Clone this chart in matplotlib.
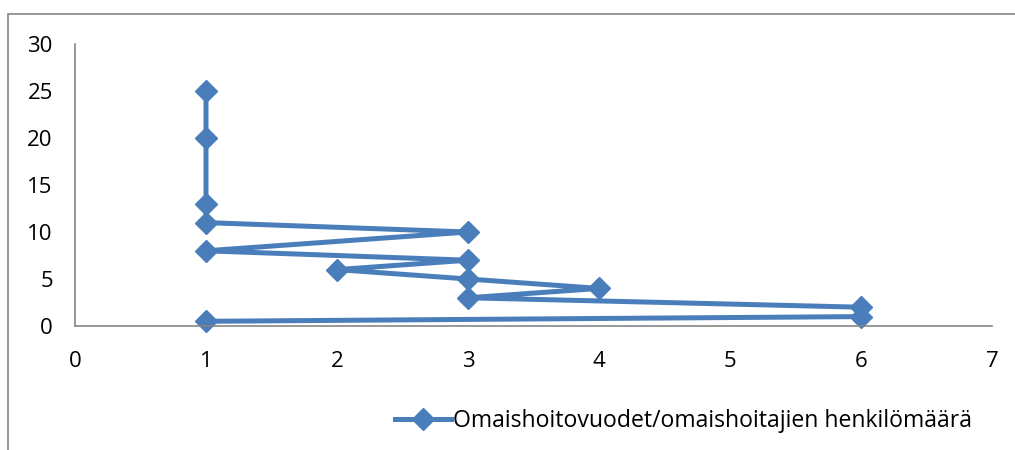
import matplotlib
matplotlib.use("Agg")
import matplotlib.pyplot as plt
from matplotlib.patches import Rectangle

# Data (in drawing order)
x_vals = [1, 1, 1, 1, 3, 1, 3, 2, 3, 4, 3, 6, 6, 1]
y_vals = [25, 20, 13, 11, 10, 8, 7, 6, 5, 4, 3, 2, 1, 0.5]
series_label = "Omaishoitovuodet/omaishoitajien henkilömäärä"
x_ticks = [0, 1, 2, 3, 4, 5, 6, 7]
y_ticks = [0, 5, 10, 15, 20, 25, 30]

LINE_COLOR = "#4A7EBB"
AXIS_COLOR = "#868686"

plt.rcParams["font.family"] = ["Open Sans", "DejaVu Sans"]

fig = plt.figure(figsize=(10.15, 4.5), dpi=100)
ax = fig.add_axes([75 / 1015, 1 - 326 / 450, (992 - 75) / 1015, (326 - 44) / 450])

ax.plot(x_vals, y_vals, color=LINE_COLOR, lw=3.6, marker="D", ms=11.5,
        markeredgecolor=LINE_COLOR, markerfacecolor=LINE_COLOR,
        label=series_label, clip_on=False)

ax.set_xlim(0, 7)
ax.set_ylim(0, 30)
ax.set_xticks(x_ticks)
ax.set_yticks(y_ticks)
ax.tick_params(length=0, labelsize=16, colors="black")
ax.tick_params(axis="x", pad=18)
ax.tick_params(axis="y", pad=16)
for side in ("top", "right"):
    ax.spines[side].set_visible(False)
for side in ("left", "bottom"):
    ax.spines[side].set_color(AXIS_COLOR)
    ax.spines[side].set_linewidth(1.2)

# outer chart frame
fig.patches.append(Rectangle((8 / 1015, -0.1), 1.2, 1 - 14 / 450 + 0.1,
                             transform=fig.transFigure, fill=False,
                             edgecolor=AXIS_COLOR, lw=1.2))

fig.legend(loc="center left", bbox_to_anchor=(386 / 1015, 1 - 421 / 450),
           frameon=False, fontsize=16.6, handlelength=2.4, handletextpad=0.12,
           borderaxespad=0)

fig.savefig("out.png", dpi=100)
